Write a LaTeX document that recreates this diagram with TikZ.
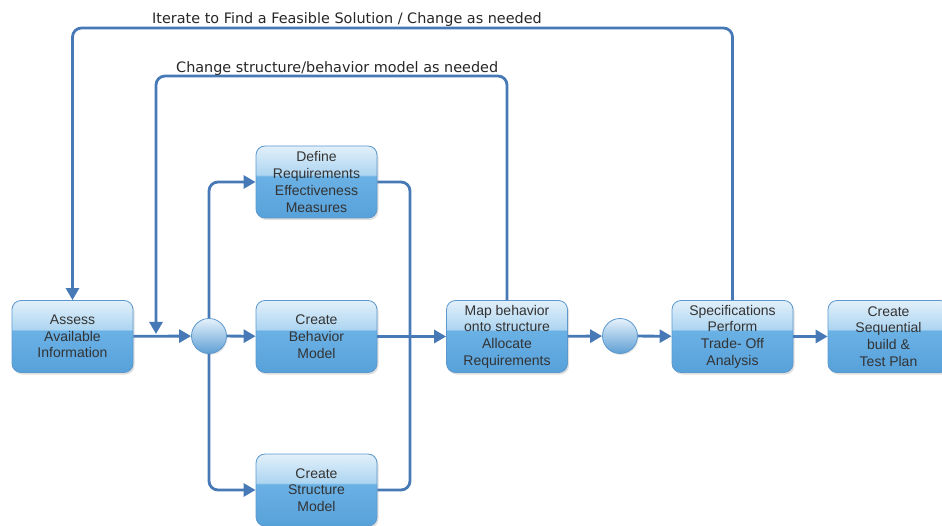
\documentclass[tikz,border=0pt]{standalone}
\usepackage{fontspec}
\setmainfont{Liberation Sans}
\newfontfamily\notefont{DejaVu Sans}
\usetikzlibrary{arrows.meta,shadows,calc}

% palette
\definecolor{wirec}{RGB}{70,121,181}
\definecolor{boxline}{RGB}{92,152,206}
\definecolor{gT}{HTML}{E2F0FA}
\definecolor{gU}{HTML}{ADD5F1}
\definecolor{gM}{HTML}{6AB1E5}
\definecolor{gB}{HTML}{57A1DA}
\definecolor{txt}{HTML}{333333}
\definecolor{hubT}{HTML}{E6F2FB}
\definecolor{hubB}{HTML}{5E9FD4}

% glossy fill for the process boxes: light upper half, saturated lower half
\pgfdeclareverticalshading{gloss}{100bp}{color(0bp)=(gB); color(25bp)=(gB); color(54bp)=(gM); color(55bp)=(gU); color(75bp)=(gT); color(100bp)=(gT)}

\begin{document}
\begin{tikzpicture}[x=1pt,y=-1pt,
  box/.style={draw=boxline, line width=0.8pt, rounded corners=9pt, shading=gloss,
    minimum width=121pt, minimum height=72pt, inner sep=2pt, text=txt, align=center,
    font=\fontsize{14}{16.7}\selectfont,
    drop shadow={opacity=0.25, shadow xshift=1.5pt, shadow yshift=-2pt}},
  hub/.style={circle, draw=boxline, line width=0.8pt, top color=hubT, bottom color=hubB,
    minimum size=35pt, inner sep=0pt,
    drop shadow={opacity=0.2, shadow xshift=1pt, shadow yshift=-1.5pt}},
  wire/.style={draw=wirec, line width=2.8pt, rounded corners=9pt},
  flow/.style={wire, -{Triangle[length=12pt,width=13pt]}},
  note/.style={font=\notefont\fontsize{14.4}{16}\selectfont, text=black!85, anchor=base west, inner sep=0pt}
]
\useasboundingbox (0,0) rectangle (942,526);
\clip (0,0) rectangle (942,526);

% process steps
\node[box] (assess) at (72.5,336.5) {Assess\\Available\\Information};
\node[hub] (c1) at (209,336) {};
\node[box] (def) at (316.5,182) {Define\\Requirements\\Effectiveness\\Measures};
\node[box] (beh) at (316.5,336.5) {Create\\Behavior\\Model};
\node[box] (str) at (316.5,490) {Create\\Structure\\Model};
\node[box] (map) at (507,336.5) {Map behavior\\onto structure\\Allocate\\Requirements};
\node[hub] (c2) at (620,336) {};
\node[box] (spec) at (732.5,336.5) {Specifications\\Perform\\Trade- Off\\Analysis};
\node[box] (seq) at (888.5,336.5) {Create\\Sequential\\build \&\\Test Plan};

% helper points for the feedback loops and the merge rail
\coordinate (outer) at (0,28);
\coordinate (inner) at (156,76);
\coordinate (drop) at (156,334);
\coordinate (rail) at (410,0);

% main flow
\draw[flow] (assess) -- (c1);
\draw[flow] (c1) -- (beh);
\draw[flow] (c1.north) |- (def.west);
\draw[flow] (c1.south) |- (str.west);
\draw[wire] (def.east) -| (rail |- str.east) -- (str.east);
\draw[flow] (beh) -- (map);
\draw[flow] (map) -- (c2);
\draw[flow] (c2) -- (spec);
\draw[flow] (spec) -- (seq);

% feedback loops
\draw[flow] (spec.north) -- (spec.north |- outer) -- (assess.north |- outer) -- (assess.north);
\draw[flow] (map.north) |- (inner) -- (drop);

% loop labels
\node[note] (lbl1) at (152,24) {Iterate to Find a Feasible Solution / Change as needed};
\node[note] (lbl2) at (176,73) {Change structure/behavior model as needed};
\end{tikzpicture}
\end{document}
